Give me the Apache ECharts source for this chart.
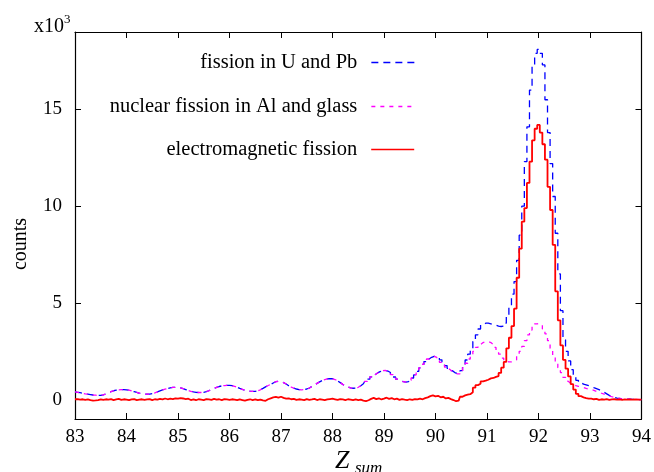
<!DOCTYPE html>
<html>
<head>
<meta charset="utf-8">
<script src="https://cdn.jsdelivr.net/npm/echarts@6/dist/echarts.min.js"></script>
<style>html,body{margin:0;padding:0;background:#fff}#c{width:654px;height:472px}</style>
</head>
<body>
<div id="c"></div>
<script>
// Bin centres of Z_sum
const zsum = [
83.00,83.05,83.10,83.15,83.20,83.25,83.30,83.35,83.40,83.45,
83.50,83.55,83.60,83.65,83.70,83.75,83.80,83.85,83.90,83.95,
84.00,84.05,84.10,84.15,84.20,84.25,84.30,84.35,84.40,84.45,
84.50,84.55,84.60,84.65,84.70,84.75,84.80,84.85,84.90,84.95,
85.00,85.05,85.10,85.15,85.20,85.25,85.30,85.35,85.40,85.45,
85.50,85.55,85.60,85.65,85.70,85.75,85.80,85.85,85.90,85.95,
86.00,86.05,86.10,86.15,86.20,86.25,86.30,86.35,86.40,86.45,
86.50,86.55,86.60,86.65,86.70,86.75,86.80,86.85,86.90,86.95,
87.00,87.05,87.10,87.15,87.20,87.25,87.30,87.35,87.40,87.45,
87.50,87.55,87.60,87.65,87.70,87.75,87.80,87.85,87.90,87.95,
88.00,88.05,88.10,88.15,88.20,88.25,88.30,88.35,88.40,88.45,
88.50,88.55,88.60,88.65,88.70,88.75,88.80,88.85,88.90,88.95,
89.00,89.05,89.10,89.15,89.20,89.25,89.30,89.35,89.40,89.45,
89.50,89.55,89.60,89.65,89.70,89.75,89.80,89.85,89.90,89.95,
90.00,90.05,90.10,90.15,90.20,90.25,90.30,90.35,90.40,90.45,
90.50,90.55,90.60,90.65,90.70,90.75,90.80,90.85,90.90,90.95,
91.00,91.05,91.10,91.15,91.20,91.25,91.30,91.35,91.40,91.45,
91.50,91.55,91.60,91.65,91.70,91.75,91.80,91.85,91.90,91.95,
92.00,92.05,92.10,92.15,92.20,92.25,92.30,92.35,92.40,92.45,
92.50,92.55,92.60,92.65,92.70,92.75,92.80,92.85,92.90,92.95,
93.00,93.05,93.10,93.15,93.20,93.25,93.30,93.35,93.40,93.45,
93.50,93.55,93.60,93.65,93.70,93.75,93.80,93.85,93.90,93.95,
94.00
];

// counts (x10^3): fission in U and Pb
const fissionUPb = [
0.40,0.38,0.36,0.33,0.30,0.28,0.26,0.24,0.23,0.22,
0.22,0.25,0.30,0.36,0.41,0.46,0.49,0.51,0.52,0.52,
0.51,0.49,0.45,0.41,0.37,0.33,0.31,0.29,0.29,0.29,
0.31,0.35,0.40,0.45,0.50,0.54,0.58,0.61,0.63,0.64,
0.63,0.61,0.57,0.52,0.47,0.43,0.40,0.38,0.37,0.37,
0.38,0.41,0.46,0.52,0.58,0.63,0.68,0.71,0.73,0.74,
0.74,0.72,0.69,0.64,0.58,0.53,0.49,0.46,0.44,0.43,
0.43,0.46,0.51,0.58,0.66,0.73,0.79,0.86,0.93,0.95,
0.93,0.88,0.81,0.72,0.65,0.59,0.55,0.52,0.51,0.52,
0.55,0.60,0.68,0.76,0.84,0.92,0.99,1.04,1.07,1.09,
1.08,1.04,0.97,0.88,0.79,0.71,0.65,0.61,0.59,0.60,
0.64,0.72,0.82,0.94,1.06,1.18,1.29,1.38,1.45,1.50,
1.51,1.48,1.40,1.29,1.17,1.06,0.98,0.93,0.91,0.93,
1.00,1.12,1.28,1.46,1.64,1.82,1.97,2.10,2.19,2.24,
2.23,2.17,2.06,1.91,1.76,1.62,1.50,1.40,1.35,1.36,
1.50,1.75,2.05,2.35,2.65,3.00,3.35,3.65,3.87,3.95,
3.95,3.92,3.88,3.85,3.80,3.78,3.80,3.95,4.30,4.85,
5.45,6.10,7.20,8.50,10.0,12.3,14.1,16.0,17.3,17.9,
18.1,17.9,17.3,15.5,13.8,12.2,10.5,8.6,6.5,4.6,
3.1,2.5,2.0,1.55,1.25,1.00,0.88,0.80,0.76,0.72,
0.68,0.62,0.57,0.52,0.45,0.38,0.30,0.22,0.16,0.11,
0.08,0.06,0.04,0.03,0.02,0.02,0.01,0.01,0.01,0.00,
0.00
];

// counts (x10^3): nuclear fission in Al and glass
const fissionAlGlass = [
0.40,0.38,0.36,0.33,0.30,0.28,0.26,0.24,0.23,0.22,
0.22,0.25,0.30,0.36,0.41,0.46,0.49,0.51,0.52,0.52,
0.51,0.49,0.45,0.41,0.37,0.33,0.31,0.29,0.29,0.29,
0.31,0.35,0.40,0.45,0.50,0.54,0.58,0.61,0.63,0.64,
0.63,0.61,0.57,0.52,0.47,0.43,0.40,0.38,0.37,0.37,
0.38,0.41,0.46,0.52,0.58,0.63,0.68,0.71,0.73,0.74,
0.74,0.72,0.69,0.64,0.58,0.53,0.49,0.46,0.44,0.43,
0.43,0.46,0.51,0.58,0.66,0.73,0.79,0.86,0.93,0.95,
0.93,0.88,0.81,0.72,0.65,0.59,0.55,0.52,0.51,0.52,
0.55,0.60,0.68,0.76,0.84,0.92,0.99,1.04,1.07,1.09,
1.08,1.04,0.97,0.88,0.79,0.71,0.65,0.61,0.59,0.60,
0.64,0.72,0.82,0.94,1.06,1.18,1.29,1.38,1.45,1.50,
1.51,1.48,1.40,1.29,1.17,1.06,0.98,0.93,0.91,0.93,
1.00,1.12,1.28,1.46,1.64,1.82,1.97,2.10,2.19,2.24,
2.18,2.05,1.93,1.80,1.68,1.57,1.47,1.38,1.33,1.33,
1.45,1.65,1.88,2.10,2.30,2.50,2.70,2.85,2.95,3.00,
3.00,2.95,2.85,2.70,2.55,2.35,2.15,2.00,1.95,1.95,
1.97,2.05,2.25,2.50,2.75,3.05,3.35,3.60,3.80,3.92,
3.95,3.85,3.65,3.40,3.05,2.65,2.25,1.95,1.65,1.40,
1.15,0.95,0.85,0.78,0.72,0.69,0.66,0.63,0.58,0.55,
0.52,0.48,0.43,0.38,0.33,0.28,0.24,0.19,0.15,0.11,
0.08,0.06,0.04,0.03,0.02,0.02,0.01,0.01,0.01,0.00,
0.00
];

// counts (x10^3): electromagnetic fission
const emFission = [
0.02,0.03,0.00,0.02,-0.01,0.01,-0.03,-0.05,-0.04,-0.02,
0.01,-0.01,0.02,0.00,0.03,-0.02,0.01,0.04,-0.01,0.02,
0.00,-0.03,0.01,0.03,-0.02,0.00,0.02,-0.01,0.01,0.03,
-0.02,0.02,0.00,0.04,0.01,0.06,0.02,0.05,0.03,0.07,
0.05,0.08,0.06,0.03,0.05,-0.02,0.01,-0.03,0.02,0.00,
-0.02,0.03,0.01,-0.01,0.04,0.00,0.02,-0.02,0.03,0.01,
-0.01,0.02,0.00,-0.03,0.01,-0.02,-0.05,-0.01,0.02,-0.02,
0.01,-0.03,0.00,-0.04,-0.06,0.02,0.07,0.12,0.14,0.10,
0.15,0.09,0.05,0.07,0.02,0.04,-0.01,0.02,0.00,-0.02,
0.03,-0.01,0.01,0.04,-0.02,0.02,0.00,-0.03,0.01,0.03,
0.05,0.02,-0.01,0.03,0.01,-0.02,0.02,0.00,-0.03,0.01,
-0.02,0.00,-0.05,-0.08,-0.03,0.04,0.09,0.03,0.07,0.01,
0.05,0.10,0.04,0.08,0.02,0.05,-0.01,0.03,0.00,-0.02,
0.02,-0.01,0.03,0.01,0.05,0.02,0.08,0.12,0.18,0.22,
0.17,0.20,0.12,0.15,0.06,0.09,0.03,-0.02,-0.08,-0.05,
0.15,0.22,0.26,0.28,0.38,0.62,0.75,0.82,0.94,0.98,
1.03,1.10,1.12,1.18,1.22,1.38,1.65,1.95,2.65,3.20,
3.80,4.70,6.30,7.80,9.20,9.90,11.2,12.3,13.4,14.0,
14.2,13.8,13.2,12.4,11.0,9.80,8.00,5.60,4.10,2.80,
2.06,1.60,1.20,0.80,0.52,0.30,0.18,0.12,0.08,0.05,
0.05,0.02,0.04,-0.01,0.02,0.00,0.03,-0.01,0.01,0.02,
0.00,0.01,-0.01,0.01,0.00,0.01,0.00,0.01,0.00,0.00,
0.00
];

const xTicks = [83,84,85,86,87,88,89,90,91,92,93,94];
const yTicks = [0,5,10,15];
const seriesNames = ['fission in U and Pb','nuclear fission in Al and glass','electromagnetic fission'];

const pairs = ys => zsum.map((z, i) => [z, ys[i]]);
const FONT = '"Liberation Serif","Times New Roman",serif';

const chart = echarts.init(document.getElementById('c'), null, {renderer: 'canvas'});
const tickCommon = {show: true, inside: true, length: 6, lineStyle: {color: '#000', width: 1}};
const axisLineCommon = {show: true, onZero: false, lineStyle: {color: '#000', width: 1.2}};

function legendFor(name, top, lineStyle) {
  return {
    data: [name], right: 239, top: top, align: 'right', orient: 'horizontal',
    itemWidth: 43, itemHeight: 14, selectedMode: false, padding: 0,
    textStyle: {fontFamily: FONT, fontSize: 20.5, color: '#000', padding: [0, 9, 0, 0]},
    itemStyle: {opacity: 0, borderWidth: 0},
    lineStyle: lineStyle
  };
}

chart.setOption({
  animation: false,
  backgroundColor: '#fff',
  grid: {left: 75, right: 11, top: 32, bottom: 53},
  legend: [
    legendFor(seriesNames[0], 52, {color: '#0000ff', width: 1.3, type: [7, 5], opacity: 1}),
    legendFor(seriesNames[1], 96, {color: '#ff00ff', width: 1.3, type: [4, 5], opacity: 1}),
    legendFor(seriesNames[2], 139, {color: '#ff0000', width: 1.6, type: 'solid', opacity: 1})
  ],
  xAxis: [
    {type: 'value', min: 83, max: 94, interval: 1, position: 'bottom',
      axisLine: axisLineCommon, axisTick: tickCommon, splitLine: {show: false},
      axisLabel: {fontFamily: FONT, fontSize: 19, color: '#000', margin: 9,
        customValues: xTicks}},
    {type: 'value', min: 83, max: 94, interval: 1, position: 'top',
      axisLine: axisLineCommon, axisTick: tickCommon, splitLine: {show: false},
      axisLabel: {show: false}}
  ],
  yAxis: [
    {type: 'value', min: -1, max: 19, position: 'left',
      axisLine: axisLineCommon,
      axisTick: Object.assign({}, tickCommon, {customValues: yTicks}),
      splitLine: {show: false},
      axisLabel: {fontFamily: FONT, fontSize: 19, color: '#000', margin: 13, customValues: yTicks}},
    {type: 'value', min: -1, max: 19, position: 'right',
      axisLine: axisLineCommon,
      axisTick: Object.assign({}, tickCommon, {customValues: yTicks}),
      splitLine: {show: false}, axisLabel: {show: false}}
  ],
  series: [
    {name: seriesNames[0], type: 'line', step: 'middle', symbol: 'none', data: pairs(fissionUPb),
      lineStyle: {color: '#0000ff', width: 1.3, type: [7, 5]}, itemStyle: {color: '#0000ff'}, z: 2},
    {name: seriesNames[1], type: 'line', step: 'middle', symbol: 'none', data: pairs(fissionAlGlass),
      lineStyle: {color: '#ff00ff', width: 1.3, type: [4, 5]}, itemStyle: {color: '#ff00ff'}, z: 3},
    {name: seriesNames[2], type: 'line', step: 'middle', symbol: 'none', data: pairs(emFission),
      lineStyle: {color: '#ff0000', width: 1.8}, itemStyle: {color: '#ff0000'}, z: 4}
  ],
  graphic: [
    {type: 'text', left: 34, top: 17, style: {text: 'x10', font: '20px ' + FONT, fill: '#000'}},
    {type: 'text', left: 64, top: 13, style: {text: '3', font: '13px ' + FONT, fill: '#000'}},
    {type: 'text', x: 21, y: 244, rotation: Math.PI / 2,
      style: {text: 'counts', font: '20px ' + FONT, fill: '#000', align: 'center', verticalAlign: 'middle'}},
    {type: 'text', left: 335, top: 448, style: {text: 'Z', font: 'italic 26px ' + FONT, fill: '#000'}},
    {type: 'text', left: 355, top: 460, style: {text: 'sum', font: 'italic 17px ' + FONT, fill: '#000'}}
  ]
});
</script>
</body>
</html>
